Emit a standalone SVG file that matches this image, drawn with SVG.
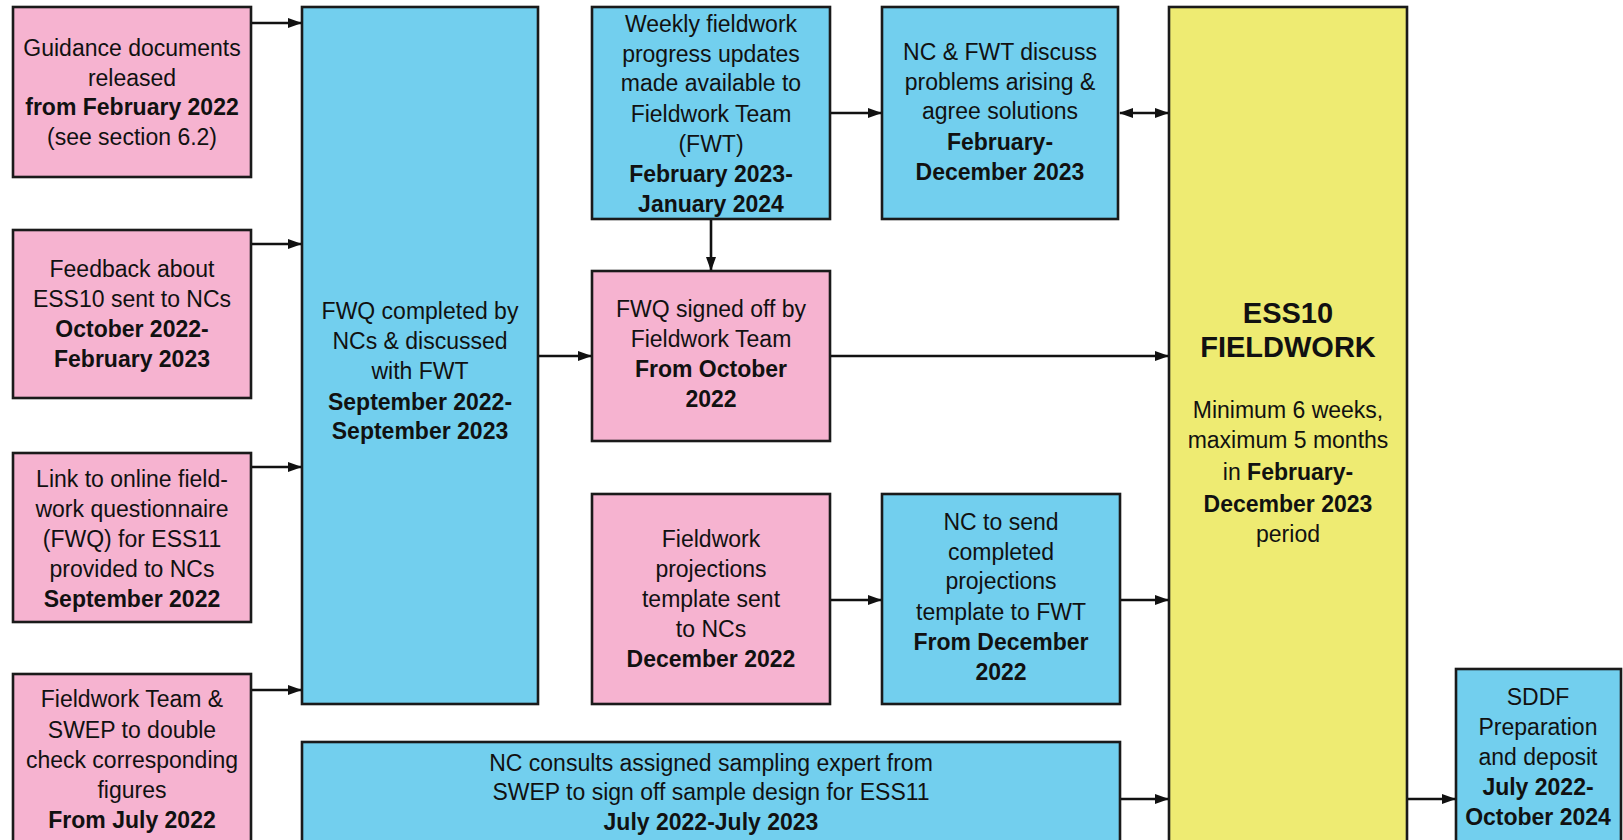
<svg xmlns="http://www.w3.org/2000/svg" width="1623" height="840" viewBox="0 0 1623 840">
<style>
.box{stroke:#1a1a1a;stroke-width:2.6}
.pink{fill:#f6b3d0}
.blue{fill:#72cfee}
.yellow{fill:#eeeb72}
text{font-family:"Liberation Sans",Arial,sans-serif;font-size:23px;fill:#111;text-anchor:middle}
.b{font-weight:bold}
.big{font-weight:bold;font-size:29px}
.conn line{stroke:#111;stroke-width:2.6}
</style>
<defs>
<marker id="ah" viewBox="0 0 14 10" refX="13" refY="5" markerWidth="14" markerHeight="10" markerUnits="userSpaceOnUse" orient="auto-start-reverse">
<path d="M0,0 L14,5 L0,10 Z" fill="#111"/>
</marker>
</defs>
<rect width="1623" height="840" fill="#ffffff"/>

<g id="guidance">
<rect class="box pink" x="13" y="7" width="238" height="170"/>
<text x="132" y="56">Guidance documents</text>
<text x="132" y="86">released</text>
<text x="132" y="115" class="b">from February 2022</text>
<text x="132" y="145">(see section 6.2)</text>
</g>

<g id="feedback">
<rect class="box pink" x="13" y="230" width="238" height="168"/>
<text x="132" y="277">Feedback about</text>
<text x="132" y="307">ESS10 sent to NCs</text>
<text x="132" y="337" class="b">October 2022-</text>
<text x="132" y="367" class="b">February 2023</text>
</g>

<g id="link">
<rect class="box pink" x="13" y="453" width="238" height="169"/>
<text x="132" y="487">Link to online field-</text>
<text x="132" y="517">work questionnaire</text>
<text x="132" y="547">(FWQ) for ESS11</text>
<text x="132" y="577">provided to NCs</text>
<text x="132" y="607" class="b">September 2022</text>
</g>

<g id="doublecheck">
<rect class="box pink" x="13" y="674" width="238" height="190"/>
<text x="132" y="707">Fieldwork Team &amp;</text>
<text x="132" y="738">SWEP to double</text>
<text x="132" y="768">check corresponding</text>
<text x="132" y="798">figures</text>
<text x="132" y="828" class="b">From July 2022</text>
</g>

<g id="fwq">
<rect class="box blue" x="302" y="7" width="236" height="697"/>
<text x="420" y="319">FWQ completed by</text>
<text x="420" y="349">NCs &amp; discussed</text>
<text x="420" y="379">with FWT</text>
<text x="420" y="410" class="b">September 2022-</text>
<text x="420" y="439" class="b">September 2023</text>
</g>

<g id="weekly">
<rect class="box blue" x="592" y="7" width="238" height="212"/>
<text x="711" y="32">Weekly fieldwork</text>
<text x="711" y="62">progress updates</text>
<text x="711" y="91">made available to</text>
<text x="711" y="122">Fieldwork Team</text>
<text x="711" y="152">(FWT)</text>
<text x="711" y="182" class="b">February 2023-</text>
<text x="711" y="212" class="b">January 2024</text>
</g>

<g id="discuss">
<rect class="box blue" x="882" y="7" width="236" height="212"/>
<text x="1000" y="60">NC &amp; FWT discuss</text>
<text x="1000" y="90">problems arising &amp;</text>
<text x="1000" y="119">agree solutions</text>
<text x="1000" y="150" class="b">February-</text>
<text x="1000" y="180" class="b">December 2023</text>
</g>

<g id="signedoff">
<rect class="box pink" x="592" y="271" width="238" height="170"/>
<text x="711" y="317">FWQ signed off by</text>
<text x="711" y="347">Fieldwork Team</text>
<text x="711" y="377" class="b">From October</text>
<text x="711" y="407" class="b">2022</text>
</g>

<g id="projections">
<rect class="box pink" x="592" y="494" width="238" height="210"/>
<text x="711" y="547">Fieldwork</text>
<text x="711" y="577">projections</text>
<text x="711" y="607">template sent</text>
<text x="711" y="637">to NCs</text>
<text x="711" y="667" class="b">December 2022</text>
</g>

<g id="sendtemplate">
<rect class="box blue" x="882" y="494" width="238" height="210"/>
<text x="1001" y="530">NC to send</text>
<text x="1001" y="560">completed</text>
<text x="1001" y="589">projections</text>
<text x="1001" y="620">template to FWT</text>
<text x="1001" y="650" class="b">From December</text>
<text x="1001" y="680" class="b">2022</text>
</g>

<g id="consults">
<rect class="box blue" x="302" y="742" width="818" height="120"/>
<text x="711" y="771">NC consults assigned sampling expert from</text>
<text x="711" y="800">SWEP to sign off sample design for ESS11</text>
<text x="711" y="830" class="b">July 2022-July 2023</text>
</g>

<g id="ess10">
<rect class="box yellow" x="1169" y="7" width="238" height="857"/>
<text x="1288" y="323" class="big">ESS10</text>
<text x="1288" y="357" class="big">FIELDWORK</text>
<text x="1288" y="418">Minimum 6 weeks,</text>
<text x="1288" y="448">maximum 5 months</text>
<text x="1288" y="480">in <tspan class="b">February-</tspan></text>
<text x="1288" y="512" class="b">December 2023</text>
<text x="1288" y="542">period</text>
</g>

<g id="sddf">
<rect class="box blue" x="1456" y="669" width="165" height="195"/>
<text x="1538" y="705">SDDF</text>
<text x="1538" y="735">Preparation</text>
<text x="1538" y="765">and deposit</text>
<text x="1538" y="795" class="b">July 2022-</text>
<text x="1538" y="825" class="b">October 2024</text>
</g>

<g id="connectors" class="conn">
<line x1="252" y1="23" x2="301" y2="23" marker-end="url(#ah)"/>
<line x1="252" y1="244" x2="301" y2="244" marker-end="url(#ah)"/>
<line x1="252" y1="467" x2="301" y2="467" marker-end="url(#ah)"/>
<line x1="252" y1="690" x2="301" y2="690" marker-end="url(#ah)"/>
<line x1="539" y1="356" x2="591" y2="356" marker-end="url(#ah)"/>
<line x1="831" y1="113" x2="881" y2="113" marker-end="url(#ah)"/>
<line x1="1120" y1="113" x2="1168" y2="113" marker-start="url(#ah)" marker-end="url(#ah)"/>
<line x1="711" y1="220" x2="711" y2="270" marker-end="url(#ah)"/>
<line x1="831" y1="356" x2="1168" y2="356" marker-end="url(#ah)"/>
<line x1="831" y1="600" x2="881" y2="600" marker-end="url(#ah)"/>
<line x1="1121" y1="600" x2="1168" y2="600" marker-end="url(#ah)"/>
<line x1="1121" y1="799" x2="1168" y2="799" marker-end="url(#ah)"/>
<line x1="1408" y1="799" x2="1455" y2="799" marker-end="url(#ah)"/>
</g>
</svg>
